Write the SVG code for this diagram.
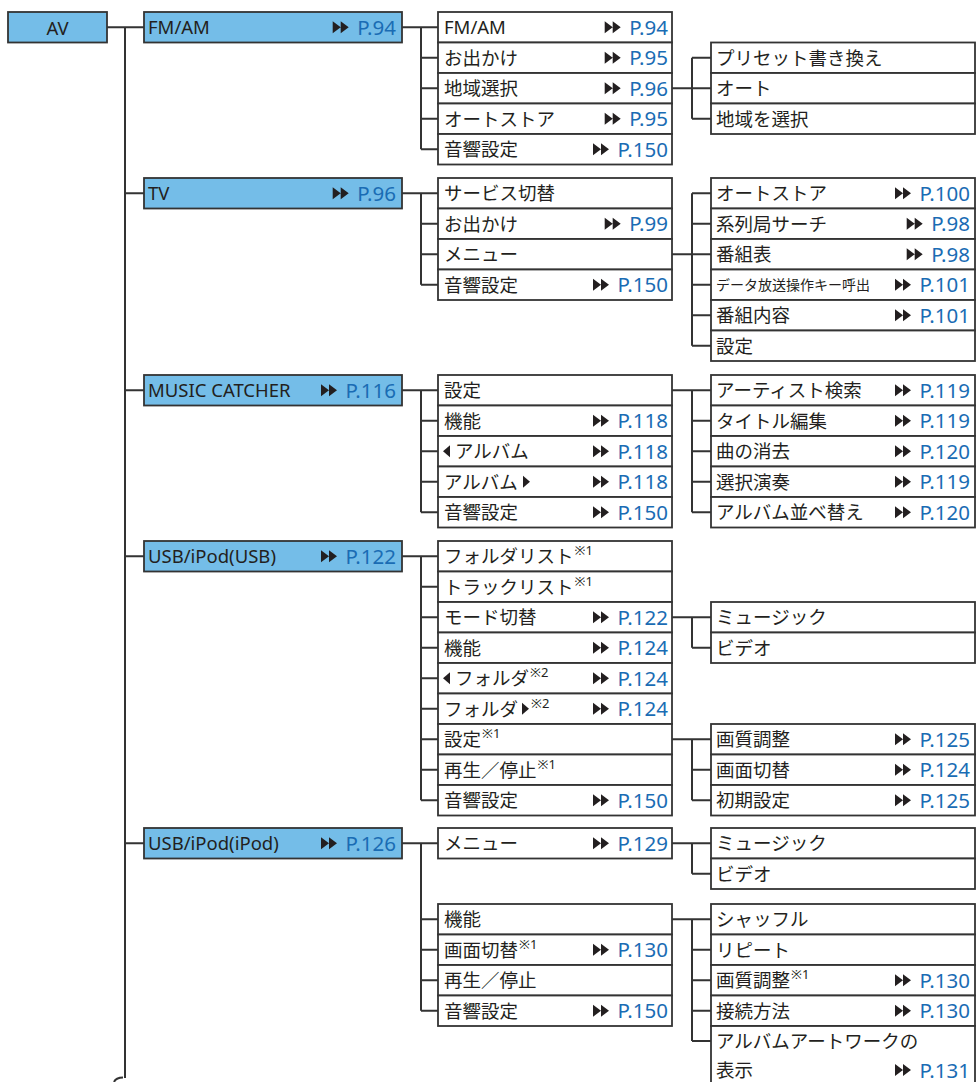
<svg xmlns="http://www.w3.org/2000/svg" xmlns:xlink="http://www.w3.org/1999/xlink" width="976" height="1082" viewBox="0 0 976 1082">
<style>
.b{fill:#fff;stroke:#333;stroke-width:1.8}
.m{fill:#74bde8;stroke:#333;stroke-width:1.8}
.t{font-family:"Noto Sans","Noto Sans CJK JP",sans-serif;font-size:18.5px;fill:#231f20}
.d{font-family:"Noto Sans CJK JP",sans-serif;font-size:14px;fill:#231f20}
.u{font-family:"Noto Sans","Noto Sans CJK JP",sans-serif;font-size:13px;fill:#231f20}
.r{font-family:"Noto Sans",sans-serif;font-size:20.5px;fill:#1a6cb4;text-anchor:end}
.c{stroke:#333;stroke-width:2;fill:none}
</style>
<defs>
<path id="ar" d="M0,-6L8,0L0,6ZM8,-6L16,0L8,6Z" fill="#231f20"/>
<path id="tl" d="M7,-6L0,0L7,6Z" fill="#231f20"/>
<path id="tr" d="M0,-6L7,0L0,6Z" fill="#231f20"/>
</defs>
<g id="connectors" class="c">
<path d="M107,27.25H144M125,27.25V1078M125,193.25H144M125,390.25H144M125,556.25H144M125,843.25H144"/>
<path d="M114,1082Q116,1077.5 123,1077.5"/>
<path d="M402,27.25H438M421,27.25V149.25M421,57.75H438M421,88.25H438M421,118.75H438M421,149.25H438"/>
<path d="M672,88.25H692M692,57.75V118.75M692,57.75H711M692,88.25H711M692,118.75H711"/>
<path d="M402,193.25H438M421,193.25V284.75M421,223.75H438M421,254.25H438M421,284.75H438"/>
<path d="M672,254.25H692M692,193.25V345.75M692,193.25H711M692,223.75H711M692,254.25H711M692,284.75H711M692,315.25H711M692,345.75H711"/>
<path d="M402,390.25H438M421,390.25V512.25M421,420.75H438M421,451.25H438M421,481.75H438M421,512.25H438"/>
<path d="M672,390.25H711M692,390.25V512.25M692,420.75H711M692,451.25H711M692,481.75H711M692,512.25H711"/>
<path d="M402,556.25H438M421,556.25V800.25M421,586.75H438M421,617.25H438M421,647.75H438M421,678.25H438M421,708.75H438M421,739.25H438M421,769.75H438M421,800.25H438"/>
<path d="M672,617.25H711M692,617.25V647.75M692,647.75H711"/>
<path d="M672,739.25H711M692,739.25V800.25M692,769.75H711M692,800.25H711"/>
<path d="M402,843.25H438M421,843.25V1010.75M421,919.25H438M421,949.75H438M421,980.25H438M421,1010.75H438"/>
<path d="M672,843.25H711M692,843.25V873.75M692,873.75H711"/>
<path d="M672,919.25H711M692,919.25V1041M692,949.75H711M692,980.25H711M692,1010.75H711M692,1041H711"/>
</g>

<g id="av"><rect class="m" x="8" y="12" width="99" height="30.5"/><text class="t" x="57.5" y="35" text-anchor="middle" font-size="21">AV</text></g>

<!-- group 1 -->
<g id="fmam"><rect class="m" x="144" y="12" width="258" height="30.5"/><text class="t" x="148" y="34">FM/AM</text><use href="#ar" x="332.7" y="27.25"/><text class="r" x="396" y="34.5">P.94</text></g>
<g id="fm-fmam"><rect class="b" x="438" y="12" width="234" height="30.5"/><text class="t" x="444" y="34">FM/AM</text><use href="#ar" x="604.7" y="27.25"/><text class="r" x="668" y="34.5">P.94</text></g>
<g id="fm-odekake"><rect class="b" x="438" y="42.5" width="234" height="30.5"/><text class="t" x="444" y="64.5">お出かけ</text><use href="#ar" x="604.7" y="57.75"/><text class="r" x="668" y="65">P.95</text></g>
<g id="fm-chiiki"><rect class="b" x="438" y="73" width="234" height="30.5"/><text class="t" x="444" y="95">地域選択</text><use href="#ar" x="604.7" y="88.25"/><text class="r" x="668" y="95.5">P.96</text></g>
<g id="fm-autostore"><rect class="b" x="438" y="103.5" width="234" height="30.5"/><text class="t" x="444" y="125.5">オートストア</text><use href="#ar" x="604.7" y="118.75"/><text class="r" x="668" y="126">P.95</text></g>
<g id="fm-onkyo"><rect class="b" x="438" y="134" width="234" height="30.5"/><text class="t" x="444" y="156">音響設定</text><use href="#ar" x="593" y="149.25"/><text class="r" x="668" y="156.5">P.150</text></g>
<g id="fm-preset"><rect class="b" x="711" y="42.5" width="264" height="30.5"/><text class="t" x="716" y="64.5">プリセット書き換え</text></g>
<g id="fm-auto"><rect class="b" x="711" y="73" width="264" height="30.5"/><text class="t" x="716" y="95">オート</text></g>
<g id="fm-chiikisel"><rect class="b" x="711" y="103.5" width="264" height="30.5"/><text class="t" x="716" y="125.5">地域を選択</text></g>

<!-- group 2 -->
<g id="tv"><rect class="m" x="144" y="178" width="258" height="30.5"/><text class="t" x="148" y="200">TV</text><use href="#ar" x="332.7" y="193.25"/><text class="r" x="396" y="200.5">P.96</text></g>
<g id="tv-service"><rect class="b" x="438" y="178" width="234" height="30.5"/><text class="t" x="444" y="200">サービス切替</text></g>
<g id="tv-odekake"><rect class="b" x="438" y="208.5" width="234" height="30.5"/><text class="t" x="444" y="230.5">お出かけ</text><use href="#ar" x="604.7" y="223.75"/><text class="r" x="668" y="231">P.99</text></g>
<g id="tv-menu"><rect class="b" x="438" y="239" width="234" height="30.5"/><text class="t" x="444" y="261">メニュー</text></g>
<g id="tv-onkyo"><rect class="b" x="438" y="269.5" width="234" height="30.5"/><text class="t" x="444" y="291.5">音響設定</text><use href="#ar" x="593" y="284.75"/><text class="r" x="668" y="292">P.150</text></g>
<g id="tv-autostore"><rect class="b" x="711" y="178" width="264" height="30.5"/><text class="t" x="716" y="200">オートストア</text><use href="#ar" x="895" y="193.25"/><text class="r" x="970" y="200.5">P.100</text></g>
<g id="tv-keiretsu"><rect class="b" x="711" y="208.5" width="264" height="30.5"/><text class="t" x="716" y="230.5">系列局サーチ</text><use href="#ar" x="906.7" y="223.75"/><text class="r" x="970" y="231">P.98</text></g>
<g id="tv-bangumi"><rect class="b" x="711" y="239" width="264" height="30.5"/><text class="t" x="716" y="261">番組表</text><use href="#ar" x="906.7" y="254.25"/><text class="r" x="970" y="261.5">P.98</text></g>
<g id="tv-data"><rect class="b" x="711" y="269.5" width="264" height="30.5"/><text class="d" x="716" y="290">データ放送操作キー呼出</text><use href="#ar" x="895" y="284.75"/><text class="r" x="970" y="292">P.101</text></g>
<g id="tv-naiyo"><rect class="b" x="711" y="300" width="264" height="30.5"/><text class="t" x="716" y="322">番組内容</text><use href="#ar" x="895" y="315.25"/><text class="r" x="970" y="322.5">P.101</text></g>
<g id="tv-settei"><rect class="b" x="711" y="330.5" width="264" height="30.5"/><text class="t" x="716" y="352.5">設定</text></g>

<!-- group 3 -->
<g id="mc"><rect class="m" x="144" y="375" width="258" height="30.5"/><text class="t" x="148" y="397">MUSIC CATCHER</text><use href="#ar" x="321" y="390.25"/><text class="r" x="396" y="397.5">P.116</text></g>
<g id="mc-settei"><rect class="b" x="438" y="375" width="234" height="30.5"/><text class="t" x="444" y="397">設定</text></g>
<g id="mc-kino"><rect class="b" x="438" y="405.5" width="234" height="30.5"/><text class="t" x="444" y="427.5">機能</text><use href="#ar" x="593" y="420.75"/><text class="r" x="668" y="428">P.118</text></g>
<g id="mc-prevalbum"><rect class="b" x="438" y="436" width="234" height="30.5"/><use href="#tl" x="443" y="451.25"/><text class="t" x="455" y="458">アルバム</text><use href="#ar" x="593" y="451.25"/><text class="r" x="668" y="458.5">P.118</text></g>
<g id="mc-nextalbum"><rect class="b" x="438" y="466.5" width="234" height="30.5"/><text class="t" x="444" y="488.5">アルバム</text><use href="#tr" x="523" y="481.75"/><use href="#ar" x="593" y="481.75"/><text class="r" x="668" y="489">P.118</text></g>
<g id="mc-onkyo"><rect class="b" x="438" y="497" width="234" height="30.5"/><text class="t" x="444" y="519">音響設定</text><use href="#ar" x="593" y="512.25"/><text class="r" x="668" y="519.5">P.150</text></g>
<g id="mc-artist"><rect class="b" x="711" y="375" width="264" height="30.5"/><text class="t" x="716" y="397">アーティスト検索</text><use href="#ar" x="895" y="390.25"/><text class="r" x="970" y="397.5">P.119</text></g>
<g id="mc-title"><rect class="b" x="711" y="405.5" width="264" height="30.5"/><text class="t" x="716" y="427.5">タイトル編集</text><use href="#ar" x="895" y="420.75"/><text class="r" x="970" y="428">P.119</text></g>
<g id="mc-delete"><rect class="b" x="711" y="436" width="264" height="30.5"/><text class="t" x="716" y="458">曲の消去</text><use href="#ar" x="895" y="451.25"/><text class="r" x="970" y="458.5">P.120</text></g>
<g id="mc-select"><rect class="b" x="711" y="466.5" width="264" height="30.5"/><text class="t" x="716" y="488.5">選択演奏</text><use href="#ar" x="895" y="481.75"/><text class="r" x="970" y="489">P.119</text></g>
<g id="mc-sort"><rect class="b" x="711" y="497" width="264" height="30.5"/><text class="t" x="716" y="519">アルバム並べ替え</text><use href="#ar" x="895" y="512.25"/><text class="r" x="970" y="519.5">P.120</text></g>

<!-- group 4 -->
<g id="usb"><rect class="m" x="144" y="541" width="258" height="30.5"/><text class="t" x="148" y="563">USB/iPod(USB)</text><use href="#ar" x="321" y="556.25"/><text class="r" x="396" y="563.5">P.122</text></g>
<g id="usb-folderlist"><rect class="b" x="438" y="541" width="234" height="30.5"/><text class="t" x="444" y="563">フォルダリスト<tspan class="u" dx="1" dy="-8">※1</tspan></text></g>
<g id="usb-tracklist"><rect class="b" x="438" y="571.5" width="234" height="30.5"/><text class="t" x="444" y="593.5">トラックリスト<tspan class="u" dx="1" dy="-8">※1</tspan></text></g>
<g id="usb-mode"><rect class="b" x="438" y="602" width="234" height="30.5"/><text class="t" x="444" y="624">モード切替</text><use href="#ar" x="593" y="617.25"/><text class="r" x="668" y="624.5">P.122</text></g>
<g id="usb-kino"><rect class="b" x="438" y="632.5" width="234" height="30.5"/><text class="t" x="444" y="654.5">機能</text><use href="#ar" x="593" y="647.75"/><text class="r" x="668" y="655">P.124</text></g>
<g id="usb-prevfolder"><rect class="b" x="438" y="663" width="234" height="30.5"/><use href="#tl" x="443" y="678.25"/><text class="t" x="455" y="685">フォルダ<tspan class="u" dx="1" dy="-8">※2</tspan></text><use href="#ar" x="593" y="678.25"/><text class="r" x="668" y="685.5">P.124</text></g>
<g id="usb-nextfolder"><rect class="b" x="438" y="693.5" width="234" height="30.5"/><text class="t" x="444" y="715.5">フォルダ</text><use href="#tr" x="522" y="708.75"/><text class="u" x="531" y="707.5">※2</text><use href="#ar" x="593" y="708.75"/><text class="r" x="668" y="716">P.124</text></g>
<g id="usb-settei"><rect class="b" x="438" y="724" width="234" height="30.5"/><text class="t" x="444" y="746">設定<tspan class="u" dx="1" dy="-8">※1</tspan></text></g>
<g id="usb-play"><rect class="b" x="438" y="754.5" width="234" height="30.5"/><text class="t" x="444" y="776.5">再生／停止<tspan class="u" dx="1" dy="-8">※1</tspan></text></g>
<g id="usb-onkyo"><rect class="b" x="438" y="785" width="234" height="30.5"/><text class="t" x="444" y="807">音響設定</text><use href="#ar" x="593" y="800.25"/><text class="r" x="668" y="807.5">P.150</text></g>
<g id="usb-music"><rect class="b" x="711" y="602" width="264" height="30.5"/><text class="t" x="716" y="624">ミュージック</text></g>
<g id="usb-video"><rect class="b" x="711" y="632.5" width="264" height="30.5"/><text class="t" x="716" y="654.5">ビデオ</text></g>
<g id="usb-gashitsu"><rect class="b" x="711" y="724" width="264" height="30.5"/><text class="t" x="716" y="746">画質調整</text><use href="#ar" x="895" y="739.25"/><text class="r" x="970" y="746.5">P.125</text></g>
<g id="usb-gamen"><rect class="b" x="711" y="754.5" width="264" height="30.5"/><text class="t" x="716" y="776.5">画面切替</text><use href="#ar" x="895" y="769.75"/><text class="r" x="970" y="777">P.124</text></g>
<g id="usb-shoki"><rect class="b" x="711" y="785" width="264" height="30.5"/><text class="t" x="716" y="807">初期設定</text><use href="#ar" x="895" y="800.25"/><text class="r" x="970" y="807.5">P.125</text></g>

<!-- group 5 -->
<g id="ipod"><rect class="m" x="144" y="828" width="258" height="30.5"/><text class="t" x="148" y="850">USB/iPod(iPod)</text><use href="#ar" x="321" y="843.25"/><text class="r" x="396" y="850.5">P.126</text></g>
<g id="ipod-menu"><rect class="b" x="438" y="828" width="234" height="30.5"/><text class="t" x="444" y="850">メニュー</text><use href="#ar" x="593" y="843.25"/><text class="r" x="668" y="850.5">P.129</text></g>
<g id="ipod-kino"><rect class="b" x="438" y="904" width="234" height="30.5"/><text class="t" x="444" y="926">機能</text></g>
<g id="ipod-gamen"><rect class="b" x="438" y="934.5" width="234" height="30.5"/><text class="t" x="444" y="956.5">画面切替<tspan class="u" dx="1" dy="-8">※1</tspan></text><use href="#ar" x="593" y="949.75"/><text class="r" x="668" y="957">P.130</text></g>
<g id="ipod-play"><rect class="b" x="438" y="965" width="234" height="30.5"/><text class="t" x="444" y="987">再生／停止</text></g>
<g id="ipod-onkyo"><rect class="b" x="438" y="995.5" width="234" height="30.5"/><text class="t" x="444" y="1017.5">音響設定</text><use href="#ar" x="593" y="1010.75"/><text class="r" x="668" y="1018">P.150</text></g>
<g id="ipod-music"><rect class="b" x="711" y="828" width="264" height="30.5"/><text class="t" x="716" y="850">ミュージック</text></g>
<g id="ipod-video"><rect class="b" x="711" y="858.5" width="264" height="30.5"/><text class="t" x="716" y="880.5">ビデオ</text></g>
<g id="ipod-shuffle"><rect class="b" x="711" y="904" width="264" height="30.5"/><text class="t" x="716" y="926">シャッフル</text></g>
<g id="ipod-repeat"><rect class="b" x="711" y="934.5" width="264" height="30.5"/><text class="t" x="716" y="956.5">リピート</text></g>
<g id="ipod-gashitsu"><rect class="b" x="711" y="965" width="264" height="30.5"/><text class="t" x="716" y="987">画質調整<tspan class="u" dx="1" dy="-8">※1</tspan></text><use href="#ar" x="895" y="980.25"/><text class="r" x="970" y="987.5">P.130</text></g>
<g id="ipod-setsuzoku"><rect class="b" x="711" y="995.5" width="264" height="30.5"/><text class="t" x="716" y="1017.5">接続方法</text><use href="#ar" x="895" y="1010.75"/><text class="r" x="970" y="1018">P.130</text></g>
<g id="ipod-artwork"><rect class="b" x="711" y="1026" width="264" height="62"/><text class="t" x="716" y="1047.5">アルバムアートワークの</text><text class="t" x="716" y="1077">表示</text><use href="#ar" x="895" y="1070"/><text class="r" x="970" y="1077.5">P.131</text></g>
</svg>
